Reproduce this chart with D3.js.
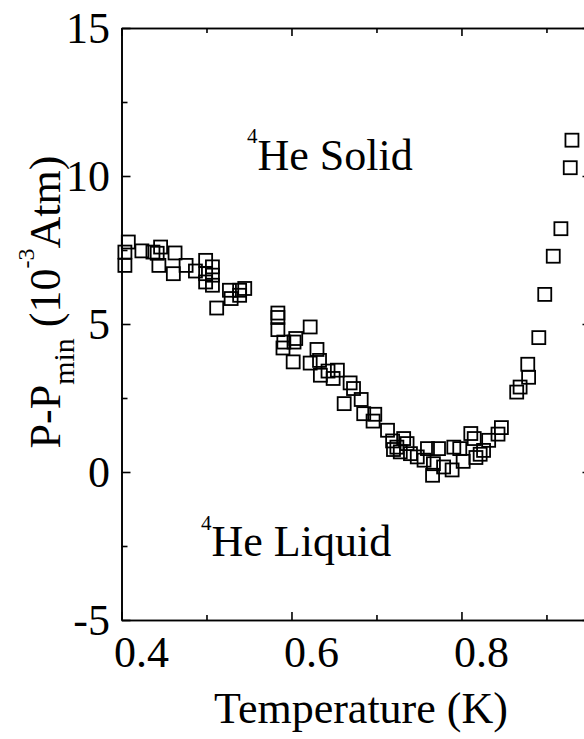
<!DOCTYPE html>
<html><head><meta charset="utf-8">
<script src="https://cdn.jsdelivr.net/npm/d3@7"></script>
<style>body{margin:0;background:#fff}svg{display:block}</style>
</head><body>
<svg id="c" width="584" height="739"></svg>
<script>
// ---- data (temperature in K, P - Pmin in 10^-3 atm) ----
const temperature = [
  0.408,0.404,0.404,0.424,0.437,0.446,0.442,0.444,0.463,0.461,0.476,0.487,0.499,0.507,0.499,0.507,0.499,0.507,0.512,0.527,0.529,0.539,0.545,0.539,
  0.584,0.584,0.584,0.622,0.591,0.590,0.605,0.603,0.602,0.630,0.622,0.633,0.634,0.643,0.649,0.654,0.669,0.673,0.662,0.682,0.685,0.698,0.696,0.713,0.719,0.720,0.724,0.732,0.736,0.728,0.740,0.748,0.756,
  0.760,0.766,0.767,0.773,0.779,0.789,0.791,0.798,0.802,0.811,0.815,0.817,0.822,0.826,0.832,0.843,0.847,0.865,0.869,0.879,0.878,0.891,0.898,0.908,0.917,0.928,0.930
];
const pressure = [
  7.77,7.43,6.98,7.47,7.43,7.60,7.39,6.98,7.40,6.70,6.98,6.79,7.15,6.93,6.70,6.65,6.42,6.31,5.54,6.14,5.86,6.14,6.20,5.97,
  5.37,5.22,4.81,4.90,4.39,4.19,4.51,4.39,3.72,4.14,3.68,3.77,3.27,3.41,3.16,3.44,3.01,2.82,2.31,2.45,1.97,1.95,1.72,1.41,1.05,0.76,0.84,1.13,0.96,0.68,0.62,0.51,0.40,
  0.79,-0.11,0.28,0.79,0.17,0.07,0.84,0.79,0.36,1.30,1.13,0.49,0.60,0.73,1.07,1.28,1.50,2.70,2.87,3.20,3.64,4.54,6.00,7.29,8.22,10.28,11.21
];
const xMajorTicks = [0.4, 0.6, 0.8];
const xMinorTicks = [0.5, 0.7, 0.9];
const yMajorTicks = [-5, 0, 5, 10, 15];
const yMinorTicks = [-2.5, 2.5, 7.5, 12.5];
const xTickLabels = ["0.4", "0.6", "0.8"];
const yTickLabels = ["-5", "0", "5", "10", "15"];

const points = temperature.map((t, i) => ({t, p: pressure[i]}));

const svg = d3.select("#c");
const FONT = "'Liberation Serif','Times New Roman',serif";
const x = d3.scaleLinear().domain([0.4, 0.953]).range([121.5, 591.5]);
const y = d3.scaleLinear().domain([-5, 15]).range([620, 28]);

const axisStyle = g => {
  g.selectAll("path,line").attr("stroke", "#000").attr("stroke-width", 1.6);
  g.selectAll("text").remove();
};

// bottom / top axes
svg.append("g").attr("transform", `translate(0,${y(-5)})`)
  .call(d3.axisBottom(x).tickValues(xMajorTicks).tickSizeInner(-8).tickSizeOuter(0)).call(axisStyle);
svg.append("g").attr("transform", `translate(0,${y(-5)})`)
  .call(d3.axisBottom(x).tickValues(xMinorTicks).tickSizeInner(-5).tickSizeOuter(0)).call(axisStyle);
svg.append("g").attr("transform", `translate(0,${y(15)})`)
  .call(d3.axisTop(x).tickValues(xMajorTicks).tickSizeInner(-8).tickSizeOuter(0)).call(axisStyle);
svg.append("g").attr("transform", `translate(0,${y(15)})`)
  .call(d3.axisTop(x).tickValues(xMinorTicks).tickSizeInner(-5).tickSizeOuter(0)).call(axisStyle);
// left / right axes
svg.append("g").attr("transform", `translate(${x(0.4)},0)`)
  .call(d3.axisLeft(y).tickValues(yMajorTicks).tickSizeInner(-9).tickSizeOuter(0)).call(axisStyle);
svg.append("g").attr("transform", `translate(${x(0.4)},0)`)
  .call(d3.axisLeft(y).tickValues(yMinorTicks).tickSizeInner(-6).tickSizeOuter(0)).call(axisStyle);
svg.append("g").attr("transform", `translate(${x(0.953)},0)`)
  .call(d3.axisRight(y).tickValues(yMajorTicks).tickSizeInner(-9).tickSizeOuter(0)).call(axisStyle);
svg.append("g").attr("transform", `translate(${x(0.953)},0)`)
  .call(d3.axisRight(y).tickValues(yMinorTicks).tickSizeInner(-6).tickSizeOuter(0)).call(axisStyle);

// tick labels
svg.append("g").selectAll("text").data(xMajorTicks).join("text")
  .attr("x", d => x(d) + 20).attr("y", 667)
  .attr("text-anchor", "middle").attr("font-family", FONT).attr("font-size", 44)
  .text((d, i) => xTickLabels[i]);
svg.append("g").selectAll("text").data(yMajorTicks).join("text")
  .attr("x", 110).attr("y", d => y(d) + 15)
  .attr("text-anchor", "end").attr("font-family", FONT).attr("font-size", 44)
  .text((d, i) => yTickLabels[i]);

// data squares
const S = 13;
svg.append("g").selectAll("rect").data(points).join("rect")
  .attr("x", d => x(d.t) - S / 2).attr("y", d => y(d.p) - S / 2)
  .attr("width", S).attr("height", S)
  .attr("fill", "none").attr("stroke", "#000").attr("stroke-width", 1.8);

// axis titles
svg.append("text").attr("x", 361).attr("y", 723)
  .attr("text-anchor", "middle").attr("font-family", FONT).attr("font-size", 44)
  .text("Temperature (K)");

const yt = svg.append("text").attr("transform", "translate(60,302) rotate(-90)")
  .attr("text-anchor", "middle").attr("font-family", FONT).attr("font-size", 44);
yt.append("tspan").text("P-P");
yt.append("tspan").attr("font-size", 30).attr("dy", 14).text("min");
yt.append("tspan").attr("dy", -14).text(" (10");
yt.append("tspan").attr("font-size", 24).attr("dy", -26).text("-3");
yt.append("tspan").attr("dy", 26).text("Atm)");

// phase annotations
const a1 = svg.append("text").attr("x", 247).attr("y", 170).attr("font-family", FONT).attr("font-size", 44);
a1.append("tspan").attr("font-size", 21).attr("dy", -27).text("4");
a1.append("tspan").attr("dy", 27).text("He Solid");
const a2 = svg.append("text").attr("x", 201).attr("y", 556).attr("font-family", FONT).attr("font-size", 44);
a2.append("tspan").attr("font-size", 21).attr("dy", -26).text("4");
a2.append("tspan").attr("dy", 26).text("He Liquid");
</script>
</body></html>
